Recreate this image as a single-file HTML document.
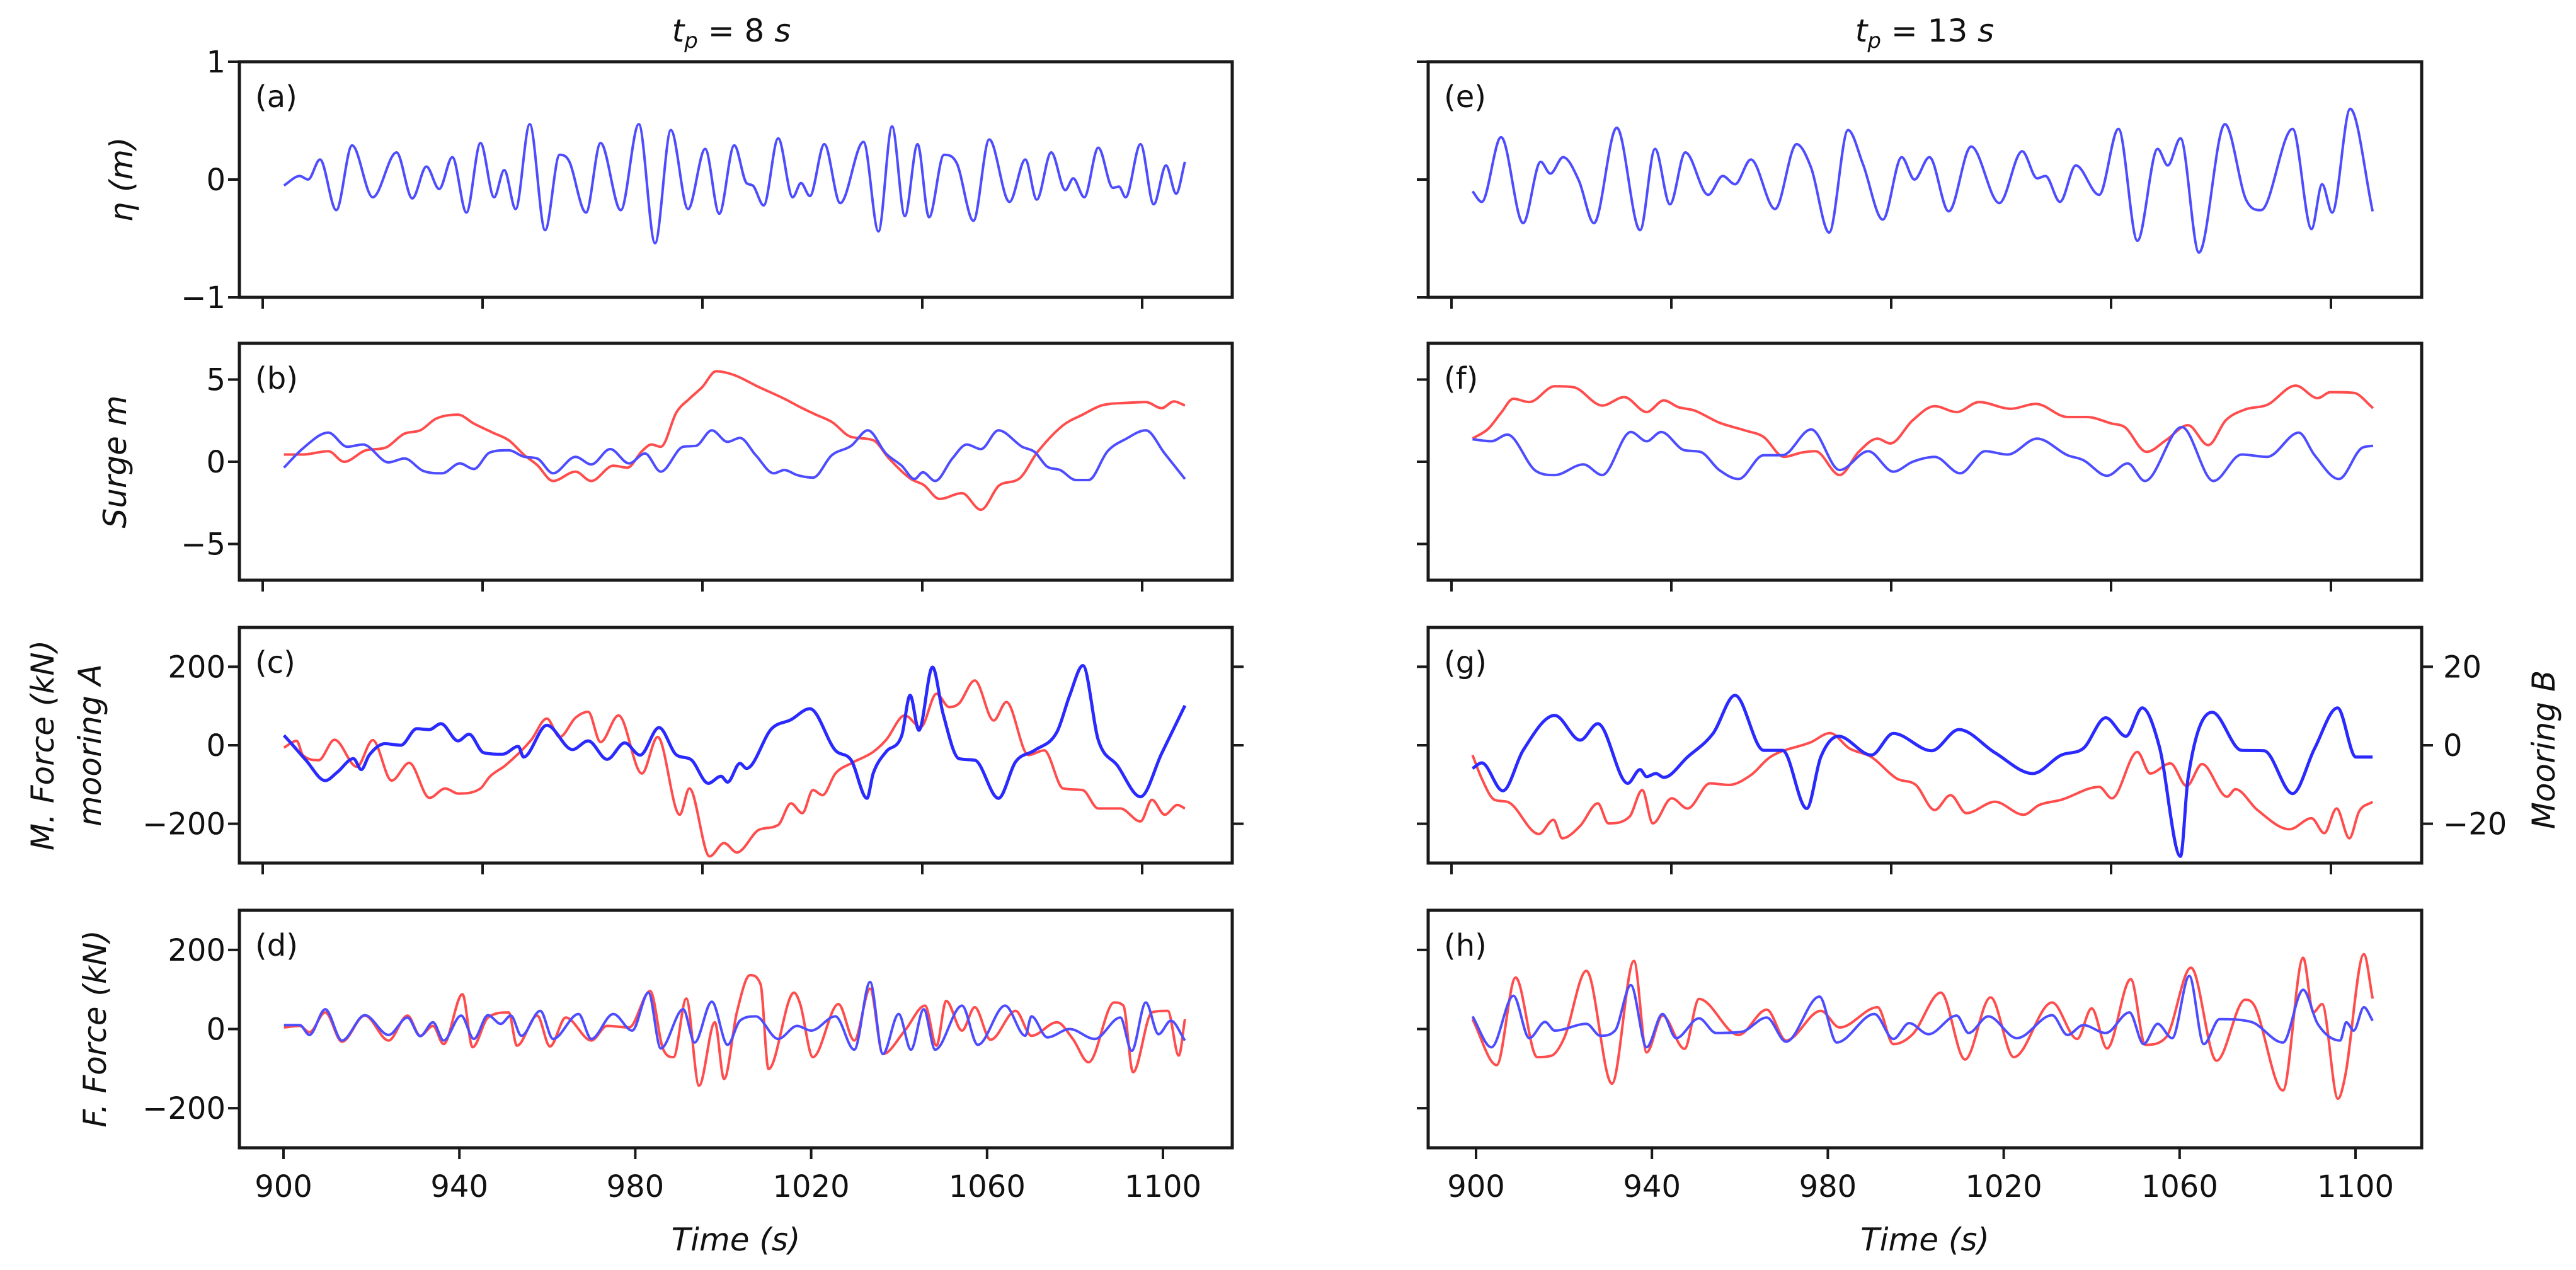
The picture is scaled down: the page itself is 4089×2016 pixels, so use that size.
<!DOCTYPE html>
<html><head><meta charset="utf-8">
<style>
html,body{margin:0;padding:0;background:#fff;}
svg{display:block;font-family:"DejaVu Sans","Liberation Sans",sans-serif;}
</style></head>
<body>
<svg id="fig" width="4089" height="2016" viewBox="0 0 4089 2016" xmlns="http://www.w3.org/2000/svg">
<rect x="0" y="0" width="4089" height="2016" fill="#fff"/>
<g id="marks"></g>
<g id="axes"></g>
</svg>
<script>
// ---- data (time s, value) ----
const Ta=[900.1,903.7,905.6,908.3,912.0,915.6,920.3,925.7,929.3,932.5,935.4,938.4,941.6,944.8,947.9,950.2,952.8,956.0,959.5,962.8,964.9,968.8,972.1,976.7,980.8,984.5,988.1,992.0,995.9,999.1,1002.5,1005.3,1006.7,1009.2,1012.5,1015.8,1017.7,1019.7,1023.0,1026.6,1031.9,1035.3,1038.4,1041.3,1044.2,1046.8,1050.2,1053.1,1056.9,1060.5,1065.1,1068.7,1071.3,1074.6,1077.8,1079.6,1082.1,1085.3,1088.6,1090.0,1091.5,1094.9,1097.9,1100.7,1103.0,1105.0];
const Va=[-0.05,0.03,0.00,0.17,-0.26,0.29,-0.15,0.23,-0.16,0.11,-0.08,0.19,-0.28,0.31,-0.15,0.08,-0.25,0.47,-0.43,0.21,0.16,-0.28,0.31,-0.26,0.47,-0.54,0.42,-0.25,0.26,-0.29,0.29,-0.03,-0.05,-0.22,0.35,-0.15,-0.03,-0.14,0.30,-0.20,0.32,-0.44,0.45,-0.31,0.30,-0.32,0.21,0.14,-0.35,0.34,-0.19,0.17,-0.17,0.23,-0.09,0.01,-0.15,0.27,-0.07,-0.06,-0.15,0.30,-0.21,0.12,-0.12,0.15];

const TbR=[900.1,904.4,910.2,913.8,918.8,923.1,927.5,931.1,934.7,939.7,943.3,947.6,951.2,954.8,957.7,961.3,966.4,970.0,975.0,978.2,981.5,983.7,985.8,989.4,992.3,995.2,998.4,1002.4,1008.2,1013.9,1017.5,1021.1,1024.7,1029.1,1034.1,1037.7,1042.7,1045.6,1049.2,1054.3,1058.6,1062.9,1067.2,1071.5,1077.3,1081.7,1086.0,1091.7,1096.1,1099.7,1102.5,1105.0];
const VbR=[0.44,0.44,0.64,0.00,0.70,0.85,1.71,1.91,2.62,2.86,2.32,1.77,1.31,0.40,-0.20,-1.17,-0.60,-1.17,-0.24,-0.36,0.64,1.05,0.91,3.02,3.83,4.53,5.50,5.28,4.53,3.83,3.32,2.86,2.42,1.51,1.31,0.20,-1.05,-1.41,-2.26,-1.91,-2.92,-1.41,-1.05,0.60,2.22,2.86,3.42,3.58,3.63,3.26,3.67,3.42];
const TbB=[900.1,904.4,910.2,914.5,918.1,923.9,927.5,931.8,936.1,940.1,943.3,946.9,951.2,954.8,957.7,961.3,966.4,970.0,974.3,978.6,982.2,985.8,990.9,993.8,997.4,1001.0,1003.8,1007.4,1011.5,1013.9,1016.8,1020.4,1024.7,1029.1,1032.9,1037.0,1040.6,1043.5,1045.4,1048.2,1052.1,1055.4,1058.6,1062.6,1068.0,1070.8,1073.7,1076.6,1080.2,1083.1,1087.4,1091.7,1096.1,1100.4,1105.0];
const VbB=[-0.36,0.81,1.77,0.91,1.05,-0.04,0.20,-0.56,-0.70,-0.10,-0.44,0.56,0.70,0.30,0.20,-0.70,0.30,-0.16,0.77,-0.10,0.50,-0.60,0.91,0.97,1.91,1.21,1.45,0.40,-0.70,-0.50,-0.81,-0.97,0.40,0.97,1.91,0.50,-0.24,-1.05,-0.64,-1.17,0.20,1.05,0.77,1.91,0.91,0.60,-0.30,-0.50,-1.11,-1.11,0.64,1.41,1.91,0.50,-1.05];

const TcB=[900.1,901.5,905.1,909.5,912.3,915.9,917.7,919.5,923.1,926.7,930.3,933.2,935.8,939.7,942.2,945.5,949.8,953.4,954.6,959.9,965.7,969.3,973.6,977.6,981.1,985.4,989.4,992.6,996.6,999.5,1001.0,1003.8,1005.3,1011.0,1015.4,1019.7,1025.5,1029.1,1032.7,1034.1,1037.0,1040.6,1042.5,1044.5,1047.6,1050.0,1053.6,1057.2,1062.6,1066.5,1070.8,1075.9,1078.8,1081.8,1085.3,1089.6,1094.9,1099.7,1105.0];
const VcB=[25,8,-38,-90,-68,-34,-62,-25,4,0,42,40,55,11,28,-19,-23,-3,-30,51,-11,11,-36,6,-25,45,-25,-36,-97,-79,-94,-46,-59,42,65,93,-13,-38,-135,-72,-17,25,127,38,199,80,-34,-38,-135,-42,-13,34,127,203,13,-51,-131,-21,101];
const TcR=[900.1,903.0,904.4,908.0,911.6,916.7,920.3,924.6,928.6,933.2,936.8,939.7,944.8,946.9,950.5,956.3,959.9,962.8,966.4,969.3,972.1,976.2,981.5,985.1,990.1,992.3,996.9,1000.2,1003.1,1008.2,1012.5,1015.4,1018.0,1020.4,1022.6,1025.5,1029.1,1034.1,1037.0,1041.3,1044.9,1048.5,1051.4,1053.6,1057.2,1061.5,1064.4,1069.4,1073.0,1077.3,1081.7,1085.3,1090.3,1094.9,1097.5,1100.4,1103.3,1105.0];
const VcR=[-0.6,1.1,-2.5,-3.8,1.4,-5.5,1.3,-9.0,-4.5,-13.4,-11.0,-12.3,-11.0,-8.0,-5.1,1.3,6.8,2.1,7.0,8.5,0.8,7.6,-7.2,2.1,-17.7,-11.0,-28.3,-24.9,-27.3,-21.5,-20.3,-14.8,-17.3,-11.4,-12.7,-7.2,-4.6,-1.7,1.3,7.6,4.6,13.1,9.7,10.6,16.5,6.3,11.0,-2.5,-1.3,-11.0,-11.4,-16.1,-16.1,-19.4,-13.9,-17.7,-15.2,-16.1];

const TdB=[900.1,903.7,905.9,909.5,913.3,918.5,923.9,928.2,931.1,934.0,936.4,940.4,943.3,946.5,949.4,951.7,954.1,958.4,961.3,967.1,970.0,975.0,979.3,983.0,985.8,990.9,993.5,997.4,1001.0,1003.8,1007.4,1012.5,1016.8,1020.0,1025.5,1029.8,1033.4,1036.3,1039.9,1042.7,1045.6,1048.2,1054.3,1057.9,1064.1,1068.7,1070.1,1073.7,1078.8,1084.5,1090.3,1092.9,1096.1,1099.0,1101.8,1105.0];
const VdB=[10,10,-15,50,-29,35,-15,29,-18,17,-29,34,-25,35,13,34,-17,46,-25,38,-25,38,-4,92,-49,50,-34,69,-40,21,32,-25,8,-4,32,-52,119,-63,38,-52,50,-52,59,-40,59,-17,32,-21,0,-25,29,-55,67,-13,21,-29];
const TdR=[900.1,903.7,905.9,909.5,913.3,918.5,923.9,928.2,931.1,934.0,936.4,940.7,943.0,946.5,951.2,953.1,957.7,960.6,964.2,970.0,973.6,978.6,983.4,986.3,988.7,991.6,994.5,998.1,1000.2,1003.1,1006.1,1008.5,1010.3,1016.1,1017.5,1020.4,1026.2,1029.8,1033.4,1036.3,1041.3,1045.9,1048.5,1050.7,1054.3,1057.2,1060.8,1066.5,1070.1,1075.9,1079.5,1083.1,1088.9,1091.0,1093.2,1097.5,1101.1,1103.6,1105.0];
const VdR=[4,8,-8,42,-32,34,-29,34,-17,8,-38,88,-46,29,42,-42,34,-44,29,-29,8,4,96,-50,-71,77,-143,17,-126,42,136,113,-101,92,63,-71,63,-29,102,-63,-4,59,-42,71,-4,55,-27,46,-17,17,-25,-84,67,59,-109,42,46,-67,25];

const Te=[899.2,901.3,905.7,910.7,914.7,916.9,919.8,923.4,926.8,932.0,937.3,940.7,944.1,947.6,952.8,956.1,958.9,962.5,968.0,972.9,976.2,980.3,984.6,988.0,992.5,996.8,999.7,1003.1,1007.5,1012.6,1019.0,1024.2,1027.6,1029.5,1032.8,1036.4,1041.7,1046.1,1050.4,1055.0,1057.3,1060.2,1064.4,1070.3,1075.1,1078.5,1085.7,1090.0,1092.4,1094.7,1098.8,1103.9];
const Ve=[-0.10,-0.19,0.36,-0.37,0.15,0.05,0.19,-0.01,-0.37,0.44,-0.43,0.26,-0.21,0.23,-0.13,0.03,-0.04,0.17,-0.25,0.30,0.10,-0.45,0.42,0.13,-0.34,0.19,0.00,0.19,-0.27,0.28,-0.20,0.24,0.01,0.03,-0.19,0.12,-0.13,0.43,-0.52,0.26,0.12,0.35,-0.62,0.47,-0.17,-0.26,0.43,-0.42,-0.04,-0.28,0.60,-0.27];

const TfR=[899.2,902.8,905.7,908.5,912.1,917.9,922.2,928.7,933.7,938.8,942.7,946.0,949.6,955.3,961.1,965.4,970.0,974.1,977.2,982.7,987.0,991.3,994.2,999.3,1004.3,1009.3,1014.4,1021.6,1027.3,1034.5,1038.9,1044.6,1047.5,1052.5,1056.9,1061.9,1066.5,1070.5,1074.9,1079.9,1086.4,1091.4,1094.3,1099.6,1104.0];
const VfR=[1.41,2.01,2.98,3.83,3.63,4.59,4.53,3.42,3.93,3.02,3.73,3.32,3.12,2.38,1.91,1.51,0.30,0.56,0.64,-0.81,0.60,1.41,1.11,2.52,3.38,3.02,3.63,3.22,3.52,2.72,2.72,2.32,2.11,0.60,1.31,2.22,1.01,2.52,3.18,3.46,4.63,3.87,4.23,4.19,3.26];
const TfB=[899.2,903.5,907.1,913.6,917.9,924.4,928.7,935.2,938.8,942.1,947.4,951.0,955.3,959.7,965.4,969.7,976.2,982.7,989.2,994.9,999.3,1004.3,1010.1,1015.8,1020.9,1027.6,1034.5,1038.1,1043.5,1048.2,1052.1,1060.5,1067.7,1074.1,1079.9,1087.1,1090.7,1096.2,1101.5,1104.0];
const VfB=[1.37,1.25,1.65,-0.56,-0.81,-0.16,-0.81,1.81,1.25,1.81,0.70,0.60,-0.50,-1.05,0.40,0.40,1.97,-0.50,0.64,-0.60,0.00,0.30,-0.70,0.64,0.44,1.41,0.40,0.10,-0.85,-0.10,-1.17,2.11,-1.17,0.44,0.30,1.77,0.40,-1.05,0.85,0.97];

const TgB=[899.2,901.3,906.1,910.7,917.9,923.7,927.7,934.5,937.3,938.8,940.9,942.7,948.1,953.9,958.9,965.4,969.7,975.2,978.4,982.4,989.9,994.9,1003.6,1009.8,1018.0,1026.6,1033.1,1038.1,1043.2,1047.8,1051.5,1055.4,1060.2,1061.9,1067.4,1074.1,1079.2,1085.7,1090.7,1095.9,1100.1,1103.9];
const VgB=[-59,-45,-116,-13,76,13,55,-97,-62,-80,-72,-82,-30,30,127,-13,-13,-161,-30,23,-25,30,-14,40,-19,-72,-25,-8,70,23,95,-4,-283,-85,84,-13,-14,-123,-8,95,-30,-30];
const TgR=[899.2,901.3,904.2,907.1,914.3,917.6,919.6,923.7,927.7,930.1,934.9,937.8,940.2,944.5,948.1,953.2,957.5,962.5,966.9,976.2,980.5,984.9,989.9,995.7,1000.0,1004.3,1007.9,1011.5,1018.0,1024.5,1028.1,1033.1,1041.7,1044.6,1050.4,1053.3,1057.9,1061.6,1065.1,1070.8,1072.7,1077.7,1085.0,1090.0,1092.9,1095.7,1098.6,1100.8,1103.9];
const VgR=[-2.5,-8.5,-13.9,-14.4,-22.6,-19.0,-23.7,-20.5,-14.8,-19.9,-18.2,-11.4,-19.9,-13.5,-16.1,-9.7,-10.1,-7.6,-3.0,0.8,3.1,-0.8,-3.0,-8.5,-10.1,-16.5,-12.7,-17.3,-14.4,-17.7,-15.2,-13.9,-10.6,-13.5,-1.7,-7.2,-4.6,-10.4,-4.8,-13.1,-11.2,-16.5,-21.4,-18.6,-22.4,-16.1,-23.7,-16.9,-14.4];

const ThB=[899.2,903.5,908.5,912.1,915.7,917.9,925.1,928.3,931.6,935.2,938.8,942.4,945.5,950.7,954.6,960.4,966.1,970.5,978.1,982.0,990.6,994.9,998.5,1002.9,1009.3,1012.0,1016.5,1023.0,1031.0,1034.5,1038.1,1043.2,1048.6,1051.8,1055.0,1058.3,1062.2,1065.5,1069.1,1076.3,1083.5,1088.1,1091.4,1096.5,1097.9,1099.6,1101.9,1103.9];
const VhB=[32,-46,84,-23,18,-4,13,-17,-4,111,-46,38,-23,27,-10,-7,29,-32,82,-34,38,-25,15,-13,34,-10,32,-23,35,-15,10,-10,42,-38,13,-23,134,-38,25,18,-34,99,13,-29,17,-4,55,21];
const ThR=[899.2,904.7,909.0,913.9,917.2,920.1,925.1,930.9,935.9,938.8,942.4,947.4,950.7,959.7,966.1,970.5,978.4,982.7,991.3,994.9,999.3,1005.7,1011.2,1017.0,1022.3,1031.0,1036.7,1040.0,1043.5,1048.9,1052.2,1056.9,1062.6,1068.4,1074.9,1077.0,1083.5,1088.1,1090.4,1092.4,1096.0,1097.6,1101.9,1103.9];
const VhR=[25,-91,130,-71,-67,-21,147,-138,172,-59,34,-50,76,-15,49,-29,46,4,55,-38,-13,92,-77,80,-71,67,-25,52,-49,126,-40,-21,155,-80,74,59,-155,180,42,63,-176,-122,189,77];

// ---- tick labels ----
const xTickLabels=[900,940,980,1020,1060,1100];
const etaTicks=[-1,0,1];
const surgeTicks=[-5,0,5];
const forceTicks=[-200,0,200];
const mooringBTicks=[-20,0,20];

// ---- layout ----
const NS="http://www.w3.org/2000/svg";
const marks=document.getElementById('marks'), axesG=document.getElementById('axes');
const cols=[{L:380,R:1956,x900:450},{L:2267,R:3844,x900:2343}];
const rows=[{T:98,B:472},{T:545,B:921},{T:996,B:1370},{T:1445,B:1822}];
const PXS=6.98;
function mk(tag,attrs,parent){const e=document.createElementNS(NS,tag);for(const k in attrs)e.setAttribute(k,attrs[k]);(parent||axesG).appendChild(e);return e;}
function xs(c,t){return cols[c].x900+(t-900)*PXS;}
function ys(r,v,lim){const m=(rows[r].T+rows[r].B)/2,h=(rows[r].B-rows[r].T)/2;return m-v/lim*h;}
function monoPath(xa,ya){
  const n=xa.length;if(n<2)return '';
  const d=[],m=new Array(n);
  for(let i=0;i<n-1;i++)d.push((ya[i+1]-ya[i])/(xa[i+1]-xa[i]));
  m[0]=d[0];m[n-1]=d[n-2];
  for(let i=1;i<n-1;i++){m[i]=(d[i-1]*d[i]<=0)?0:(d[i-1]+d[i])/2;}
  for(let i=0;i<n-1;i++){if(d[i]===0){m[i]=0;m[i+1]=0;continue;}const a=m[i]/d[i],b=m[i+1]/d[i],s=a*a+b*b;if(s>9){const tt=3/Math.sqrt(s);m[i]=tt*a*d[i];m[i+1]=tt*b*d[i];}}
  let p='M'+xa[0].toFixed(1)+','+ya[0].toFixed(1);
  for(let i=0;i<n-1;i++){const h=(xa[i+1]-xa[i])/3;p+=' C'+(xa[i]+h).toFixed(1)+','+(ya[i]+m[i]*h).toFixed(1)+' '+(xa[i+1]-h).toFixed(1)+','+(ya[i+1]-m[i+1]*h).toFixed(1)+' '+xa[i+1].toFixed(1)+','+ya[i+1].toFixed(1);}
  return p;
}
function series(c,r,T,V,lim,color,name,w){
  const xa=T.map(t=>xs(c,t)),ya=V.map(v=>ys(r,v,lim));
  const p=mk('path',{d:monoPath(xa,ya),fill:'none',stroke:color,'stroke-width':w||4,'stroke-linejoin':'round'},marks);
  
  
}
const BLUE='#4d4dff',RED='#ff4d4d';
series(0,0,Ta,Va,1,BLUE,'eta-series-tp8');
series(0,1,TbR,VbR,7.2,RED,'surge-red-tp8');
series(0,1,TbB,VbB,7.2,BLUE,'surge-blue-tp8');
series(0,2,TcR,VcR,30,RED,'mooring-b-force-tp8');
series(0,2,TcB,VcB,300,'#2a2aff','mooring-a-force-tp8',5);
series(0,3,TdR,VdR,300,RED,'float-force-red-tp8');
series(0,3,TdB,VdB,300,BLUE,'float-force-blue-tp8');
series(1,0,Te,Ve,1,BLUE,'eta-series-tp13');
series(1,1,TfR,VfR,7.2,RED,'surge-red-tp13');
series(1,1,TfB,VfB,7.2,BLUE,'surge-blue-tp13');
series(1,2,TgR,VgR,30,RED,'mooring-b-force-tp13');
series(1,2,TgB,VgB,300,'#2a2aff','mooring-a-force-tp13',5);
series(1,3,ThR,VhR,300,RED,'float-force-red-tp13');
series(1,3,ThB,VhB,300,BLUE,'float-force-blue-tp13');

// ---- frames & ticks ----
const letters=[['a','b','c','d'],['e','f','g','h']];
const lims=[1,7.2,300,300];
const yTickSets=[etaTicks,surgeTicks,forceTicks,forceTicks];
function txt(x,y,s,anchor,size,name,extra){const t=mk('text',Object.assign({x:x,y:y,'font-size':size||48,'text-anchor':anchor||'middle',fill:'#111'},extra||{}));t.textContent=s;return t;}
for(let c=0;c<2;c++){
  for(let r=0;r<4;r++){
    const C=cols[c],R=rows[r];
    const fr=mk('rect',{x:C.L,y:R.T,width:C.R-C.L,height:R.B-R.T,fill:'none',stroke:'#1a1a1a','stroke-width':5});
    
    
    txt(C.L+25,R.T+72,'('+letters[c][r]+')','start',48,'panel-label-'+letters[c][r]);
    yTickSets[r].forEach(v=>{
      const y=ys(r,v,lims[r]);
      mk('line',{x1:C.L-18,y1:y,x2:C.L,y2:y,stroke:'#1a1a1a','stroke-width':4});
      if(c===0)txt(C.L-22,y+17,String(v).replace('-','\u2212'),'end',48,'y-tick-label');
    });
    if(r===2){
      mooringBTicks.forEach(v=>{
        const y=ys(2,v,30);
        mk('line',{x1:C.R,y1:y,x2:C.R+18,y2:y,stroke:'#1a1a1a','stroke-width':4});
        if(c===1)txt(C.R+34,y+17,String(v).replace('-','\u2212'),'start',48,'mooring-b-tick-label');
      });
    }
    if(r<3){
      for(let k=0;k<5;k++){const x=C.L+37+k*349;mk('line',{x1:x,y1:R.B,x2:x,y2:R.B+18,stroke:'#1a1a1a','stroke-width':4});}
    } else {
      xTickLabels.forEach(t=>{const x=xs(c,t);mk('line',{x1:x,y1:R.B,x2:x,y2:R.B+18,stroke:'#1a1a1a','stroke-width':4});txt(x,R.B+78,String(t),'middle',48,'x-tick-label');});
    }
  }
  txt((cols[c].L+cols[c].R)/2,1985,'Time (s)','middle',50,'x-axis-title',{'font-style':'italic'});
}
const t1=txt(1161,66,'','middle',50,'column-title-tp8');
t1.innerHTML='<tspan font-style="italic">t</tspan><tspan font-style="italic" font-size="34" dy="10">p</tspan><tspan dy="-10"> = 8 </tspan><tspan font-style="italic">s</tspan>';
const t2=txt(3055,66,'','middle',50,'column-title-tp13');
t2.innerHTML='<tspan font-style="italic">t</tspan><tspan font-style="italic" font-size="34" dy="10">p</tspan><tspan dy="-10"> = 13 </tspan><tspan font-style="italic">s</tspan>';
function ylab(x,y,s,name,rot){const t=txt(x,y,s,'middle',50,name,{'font-style':'italic',transform:'rotate('+(rot||-90)+' '+x+' '+y+')'});return t;}
ylab(210,285,'\u03b7 (m)','y-axis-title-eta');
ylab(200,733,'Surge m','y-axis-title-surge');
ylab(85,1183,'M. Force (kN)','y-axis-title-mooring-force');
ylab(160,1183,'mooring A','y-axis-title-mooring-a');
ylab(168,1633,'F. Force (kN)','y-axis-title-float-force');
ylab(4055,1190,'Mooring B','y-axis-title-mooring-b');
</script>
</body></html>
